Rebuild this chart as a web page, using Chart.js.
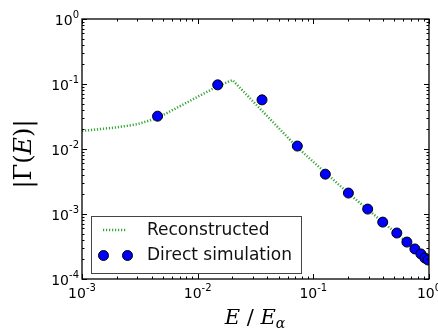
<!DOCTYPE html>
<html><head><meta charset="utf-8">
<script src="https://cdn.jsdelivr.net/npm/chart.js@4/dist/chart.umd.min.js"></script>
<style>html,body{margin:0;padding:0;background:#fff;}canvas{display:block;}</style>
</head><body>
<canvas id="c" width="438" height="328"></canvas>
<script>
// Reconstructed curve
const reconE = [0.001, 0.002, 0.003, 0.0045, 0.015, 0.02, 0.073, 0.2, 1.0];
const reconG = [0.019, 0.0215, 0.024, 0.030, 0.093, 0.115, 0.0105, 0.0021, 0.00019];
// Direct simulation points
const simE = [0.0045, 0.0149, 0.036, 0.0727, 0.127, 0.201, 0.295, 0.398, 0.527, 0.644, 0.755, 0.851, 0.922, 0.98];
const simG = [0.032, 0.097, 0.057, 0.0111, 0.0041, 0.0021, 0.00119, 0.00075, 0.00051, 0.00037, 0.00029, 0.000243, 0.00021, 0.000196];
// Tick decades and labels
const xTickVals = [0.001, 0.01, 0.1, 1];
const xTickExp = ["-3", "-2", "-1", "0"];
const yTickVals = [0.0001, 0.001, 0.01, 0.1, 1];
const yTickExp = ["-4", "-3", "-2", "-1", "0"];
const seriesLabels = ["Reconstructed", "Direct simulation"];

const lineColor = 'rgb(55,165,55)';
const lineDash = [1.2, 1.8];

const decor = {
  id: 'decor',
  afterDraw(chart) {
    const ctx = chart.ctx, a = chart.chartArea;
    const xs = chart.scales.x, ys = chart.scales.y;
    ctx.save();
    // frame
    ctx.strokeStyle = '#000'; ctx.lineWidth = 1.3;
    ctx.strokeRect(a.left, a.top, a.right - a.left, a.bottom - a.top);
    // ticks
    ctx.lineWidth = 1;
    const minor = [2,3,4,5,6,7,8,9];
    ctx.beginPath();
    xTickVals.forEach((d, i) => {
      const px = Math.round(xs.getPixelForValue(d)) + 0.5;
      ctx.moveTo(px, a.bottom); ctx.lineTo(px, a.bottom - 5);
      ctx.moveTo(px, a.top); ctx.lineTo(px, a.top + 5);
      if (i < xTickVals.length - 1) minor.forEach(m => {
        const p = Math.round(xs.getPixelForValue(d * m)) + 0.5;
        ctx.moveTo(p, a.bottom); ctx.lineTo(p, a.bottom - 2.5);
        ctx.moveTo(p, a.top); ctx.lineTo(p, a.top + 2.5);
      });
    });
    yTickVals.forEach((d, i) => {
      const py = Math.round(ys.getPixelForValue(d)) + 0.5;
      ctx.moveTo(a.left, py); ctx.lineTo(a.left + 5, py);
      ctx.moveTo(a.right, py); ctx.lineTo(a.right - 5, py);
      if (i < yTickVals.length - 1) minor.forEach(m => {
        const p = Math.round(ys.getPixelForValue(d * m)) + 0.5;
        ctx.moveTo(a.left, p); ctx.lineTo(a.left + 2.5, p);
        ctx.moveTo(a.right, p); ctx.lineTo(a.right - 2.5, p);
      });
    });
    ctx.stroke();
    // tick labels
    ctx.fillStyle = '#000';
    const bigF = '14px "DejaVu Sans"', smallF = '10px "DejaVu Sans"';
    ctx.textBaseline = 'alphabetic';
    xTickVals.forEach((d, i) => {
      const px = xs.getPixelForValue(d);
      ctx.font = bigF; const w1 = ctx.measureText('10').width;
      ctx.font = smallF; const w2 = ctx.measureText(xTickExp[i]).width;
      const x0 = px - (w1 + w2) / 2;
      ctx.font = bigF; ctx.textAlign = 'left'; ctx.fillText('10', x0, a.bottom + 19);
      ctx.font = smallF; ctx.fillText(xTickExp[i], x0 + w1, a.bottom + 12);
    });
    yTickVals.forEach((d, i) => {
      const py = ys.getPixelForValue(d);
      ctx.font = smallF; const w2 = ctx.measureText(yTickExp[i]).width;
      const xr = a.left - 3;
      ctx.textAlign = 'right';
      ctx.fillText(yTickExp[i], xr, py - 1);
      ctx.font = bigF; ctx.fillText('10', xr - w2, py + 6);
    });
    // x axis title: E / E_alpha
    const xt = [['E','italic 21px "DejaVu Serif"',0],[' / ','21px "DejaVu Serif"',0],['E','italic 21px "DejaVu Serif"',0],['α','italic 14px "DejaVu Serif"',4]];
    let tw = 0;
    xt.forEach(p => { ctx.font = p[1]; tw += ctx.measureText(p[0]).width; });
    let cx = 255 - tw / 2;
    ctx.textAlign = 'left';
    xt.forEach(p => { ctx.font = p[1]; ctx.fillText(p[0], cx, 324 + p[2]); cx += ctx.measureText(p[0]).width; });
    // y axis title |Γ(E)|
    ctx.save();
    ctx.translate(31, 154); ctx.rotate(-Math.PI / 2);
    const yt = [['|Γ(','24px "DejaVu Serif"'],['E','italic 24px "DejaVu Serif"'],[')|','24px "DejaVu Serif"']];
    tw = 0; yt.forEach(p => { ctx.font = p[1]; tw += ctx.measureText(p[0]).width; });
    cx = -tw / 2;
    yt.forEach(p => { ctx.font = p[1]; ctx.fillText(p[0], cx, 0); cx += ctx.measureText(p[0]).width; });
    ctx.restore();
    // legend
    ctx.fillStyle = '#fff'; ctx.fillRect(91, 216, 210, 58);
    ctx.strokeStyle = '#444'; ctx.lineWidth = 1;
    ctx.strokeRect(91.5, 216.5, 210, 57);
    ctx.strokeStyle = lineColor; ctx.lineWidth = 2.5; ctx.setLineDash(lineDash);
    ctx.beginPath(); ctx.moveTo(103, 230); ctx.lineTo(126, 230); ctx.stroke();
    ctx.setLineDash([]);
    [103.5, 127.5].forEach(mx => {
      ctx.beginPath(); ctx.arc(mx, 255.5, 5, 0, Math.PI * 2);
      ctx.fillStyle = '#0000ff'; ctx.fill(); ctx.strokeStyle = '#000'; ctx.lineWidth = 1; ctx.stroke();
    });
    ctx.fillStyle = '#111'; ctx.font = '17px "DejaVu Sans"'; ctx.textAlign = 'left'; ctx.textBaseline = 'middle';
    ctx.fillText(seriesLabels[0], 147, 231);
    ctx.fillText(seriesLabels[1], 147, 256);
    ctx.restore();
  }
};

new Chart(document.getElementById('c'), {
  type: 'scatter',
  data: {
    datasets: [
      { label: seriesLabels[0], data: reconE.map((e, i) => ({x: e, y: reconG[i]})), showLine: true,
        borderColor: lineColor, borderWidth: 2.5, borderDash: lineDash, borderCapStyle: 'butt',
        pointRadius: 0, fill: false, order: 2 },
      { label: seriesLabels[1], data: simE.map((e, i) => ({x: e, y: simG[i]})), showLine: false,
        pointRadius: 5, pointBackgroundColor: '#0000ff', pointBorderColor: '#000', pointBorderWidth: 1, order: 1 }
    ]
  },
  options: {
    responsive: false, animation: false,
    layout: { padding: { left: 82, top: 19, right: 9, bottom: 49 } },
    plugins: { legend: { display: false }, tooltip: { enabled: false } },
    scales: {
      x: { type: 'logarithmic', min: 0.001, max: 1, display: false },
      y: { type: 'logarithmic', min: 0.0001, max: 1, display: false }
    }
  },
  plugins: [decor]
});
</script>
</body></html>
